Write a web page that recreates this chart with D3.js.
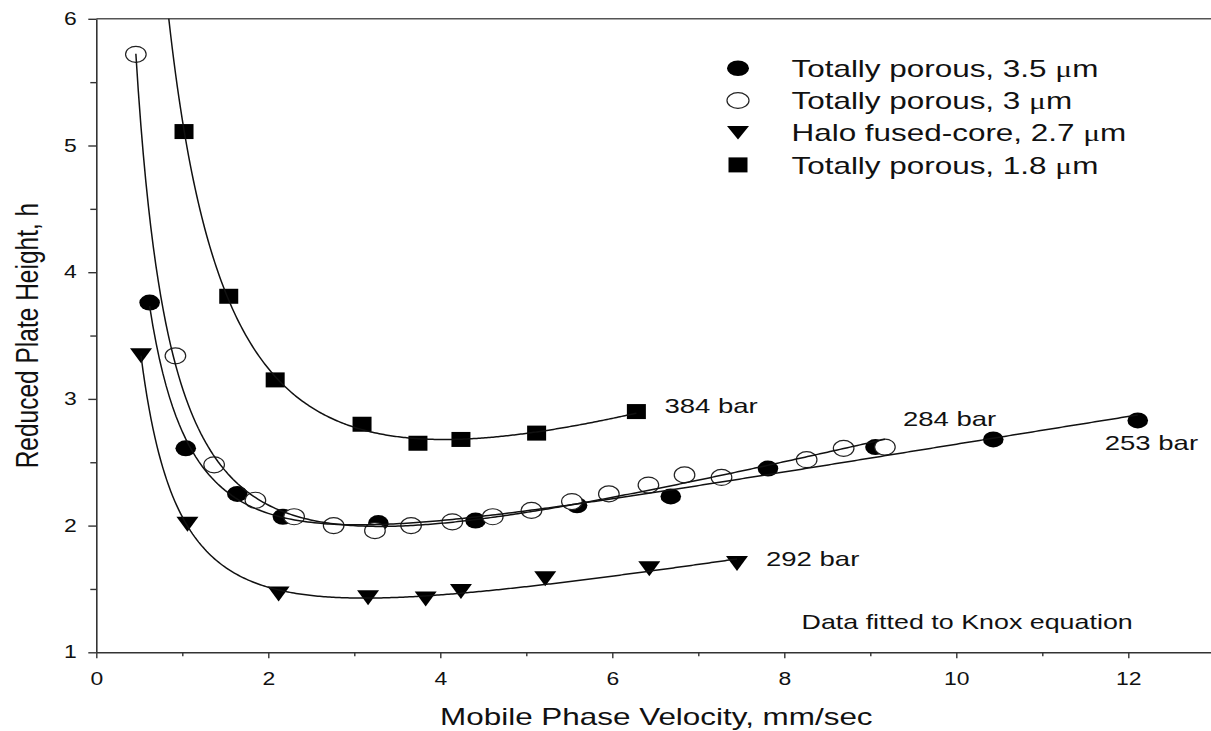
<!DOCTYPE html>
<html>
<head>
<meta charset="utf-8">
<script src="https://cdn.jsdelivr.net/npm/d3@7/dist/d3.min.js"></script>
<style>
  html, body { margin: 0; padding: 0; background: #fff; }
  svg { display: block; }
  text { font-family: "Liberation Sans", Arial, sans-serif; fill: #111; }
</style>
</head>
<body>
<svg id="chart" width="1211" height="731"></svg>
<script>
// Van Deemter-style plate height data, reduced plate height h vs. linear velocity (mm/s)
const vel35 = [0.62, 1.04, 1.64, 2.17, 3.28, 4.41, 5.59, 6.68, 7.81, 9.06, 10.43, 12.11];
const h35   = [3.76, 2.61, 2.25, 2.07, 2.02, 2.04, 2.16, 2.23, 2.45, 2.62, 2.68, 2.83];

const vel30 = [0.46, 0.92, 1.37, 1.85, 2.30, 2.76, 3.24, 3.66, 4.14, 4.61, 5.06, 5.53, 5.96, 6.42, 6.84, 7.27, 8.26, 8.69, 9.17];
const h30   = [5.72, 3.34, 2.48, 2.20, 2.07, 2.00, 1.96, 2.00, 2.03, 2.07, 2.12, 2.19, 2.25, 2.32, 2.40, 2.38, 2.52, 2.61, 2.62];

const vel27 = [0.52, 1.06, 2.12, 3.16, 3.83, 4.24, 5.22, 6.43, 7.45];
const h27   = [3.34, 2.01, 1.46, 1.43, 1.42, 1.48, 1.58, 1.66, 1.70];

const vel18 = [1.02, 1.54, 2.08, 3.09, 3.74, 4.24, 5.12, 6.28];
const h18   = [5.11, 3.81, 3.15, 2.80, 2.65, 2.68, 2.73, 2.90];

const seriesNames = [
  "Totally porous, 3.5 ",
  "Totally porous, 3 ",
  "Halo fused-core, 2.7 ",
  "Totally porous, 1.8 "
];
const pressureLabels = ["253 bar", "284 bar", "292 bar", "384 bar"];
const noteText = "Data fitted to Knox equation";

const xMajor = [0, 2, 4, 6, 8, 10, 12];
const xMinor = [1, 3, 5, 7, 9, 11];
const yMajor = [1, 2, 3, 4, 5, 6];
const yMinor = [1.5, 2.5, 3.5, 4.5, 5.5];

// ---- layout ----
const SX = 1.31;              // horizontal glyph stretch used throughout the figure
const plotL = 96.3, plotR = 1214.3, plotT = 18.8, plotB = 652.3;

const svg = d3.select("#chart");
const x = d3.scaleLinear().domain([0, 13]).range([plotL, plotR]);
const y = d3.scaleLinear().domain([1, 6]).range([plotB, plotT]);

const axisColor = "#333";

// clip region for the fitted curves
svg.append("defs").append("clipPath").attr("id", "plotClip")
  .append("rect").attr("x", plotL).attr("y", plotT).attr("width", plotR - plotL).attr("height", plotB - plotT);

// top frame line
svg.append("line").attr("x1", plotL).attr("x2", plotR).attr("y1", plotT).attr("y2", plotT)
  .attr("stroke", "#555").attr("stroke-width", 1.6);

// ---- axes ----
function styleAxis(g) {
  g.selectAll("path.domain").attr("stroke", axisColor).attr("stroke-width", 1.6);
  g.selectAll(".tick line").attr("stroke", axisColor).attr("stroke-width", 1.4);
}

const gx = svg.append("g").attr("transform", `translate(0,${plotB})`)
  .call(d3.axisBottom(x).tickValues(xMajor).tickSize(6).tickSizeOuter(0).tickPadding(14).tickFormat(d3.format("d")));
styleAxis(gx);
gx.selectAll(".tick text").attr("font-size", 17.5).attr("fill", "#111")
  .attr("font-family", "Liberation Sans, Arial, sans-serif")
  .attr("transform", `scale(${SX},1)`);

const gxm = svg.append("g").attr("transform", `translate(0,${plotB})`)
  .call(d3.axisBottom(x).tickValues(xMinor).tickSize(4).tickFormat(""));
gxm.select("path.domain").remove();
styleAxis(gxm);

const gy = svg.append("g").attr("transform", `translate(${plotL},0)`)
  .call(d3.axisLeft(y).tickValues(yMajor).tickSize(8).tickSizeOuter(0).tickFormat(d3.format("d")));
styleAxis(gy);
gy.selectAll(".tick text").attr("font-size", 17.5).attr("fill", "#111")
  .attr("font-family", "Liberation Sans, Arial, sans-serif")
  .attr("x", null)
  .attr("transform", `translate(-19.5,0) scale(${SX},1)`);

const gym = svg.append("g").attr("transform", `translate(${plotL},0)`)
  .call(d3.axisLeft(y).tickValues(yMinor).tickSize(6).tickFormat(""));
gym.select("path.domain").remove();
styleAxis(gym);

// axis titles
svg.append("text")
  .attr("transform", `translate(${(plotL + plotR) / 2 + 1},725) scale(${SX},1)`)
  .attr("text-anchor", "middle").attr("font-size", 24)
  .text("Mobile Phase Velocity, mm/sec");

svg.append("text")
  .attr("transform", `translate(38,${(plotT + plotB) / 2}) rotate(-90) scale(1,${SX})`)
  .attr("text-anchor", "middle").attr("font-size", 24.5)
  .text("Reduced Plate Height, h");

// ---- Knox equation fit: h = A v^(1/3) + B / v + C v (linear least squares) ----
function knoxFit(vs, hs) {
  const M = [[0, 0, 0], [0, 0, 0], [0, 0, 0]], b = [0, 0, 0];
  vs.forEach((v, i) => {
    const r = [Math.cbrt(v), 1 / v, v];
    for (let j = 0; j < 3; j++) {
      b[j] += r[j] * hs[i];
      for (let k = 0; k < 3; k++) M[j][k] += r[j] * r[k];
    }
  });
  // Gaussian elimination with partial pivoting
  const A = M.map((row, i) => row.concat([b[i]]));
  for (let c = 0; c < 3; c++) {
    let p = c;
    for (let r = c + 1; r < 3; r++) if (Math.abs(A[r][c]) > Math.abs(A[p][c])) p = r;
    [A[c], A[p]] = [A[p], A[c]];
    for (let r = c + 1; r < 3; r++) {
      const f = A[r][c] / A[c][c];
      for (let k = c; k < 4; k++) A[r][k] -= f * A[c][k];
    }
  }
  const s = [0, 0, 0];
  for (let r = 2; r >= 0; r--) {
    let acc = A[r][3];
    for (let k = r + 1; k < 3; k++) acc -= A[r][k] * s[k];
    s[r] = acc / A[r][r];
  }
  return v => s[0] * Math.cbrt(v) + s[1] / v + s[2] * v;
}

const line = d3.line().x(d => x(d[0])).y(d => y(d[1]));
function fitPath(vs, hs, vStart) {
  const f = knoxFit(vs, hs);
  const v0 = vStart, v1 = d3.max(vs), n = 300;
  return d3.range(n + 1).map(i => { const v = v0 + (v1 - v0) * i / n; return [v, f(v)]; });
}

// ---- markers ----
const ELL = { rx: 10.3, ry: 8 };
const SQ = { w: 19, h: 15 };
const TRI = { w: 22, h: 15 };

function triPath(w, h) {
  return `M${-w / 2},${-h / 2}L${w / 2},${-h / 2}L0,${h / 2}Z`;
}

const zip = (a, b) => a.map((v, i) => [v, b[i]]);

const marks = svg.append("g");

// squares (1.8 um)
marks.selectAll("rect.s18").data(zip(vel18, h18)).join("rect")
  .attr("x", d => x(d[0]) - SQ.w / 2).attr("y", d => y(d[1]) - SQ.h / 2)
  .attr("width", SQ.w).attr("height", SQ.h).attr("fill", "#000");

// triangles (2.7 um)
marks.selectAll("path.s27").data(zip(vel27, h27)).join("path")
  .attr("transform", d => `translate(${x(d[0])},${y(d[1])})`)
  .attr("d", triPath(TRI.w, TRI.h)).attr("fill", "#000");

// filled circles (3.5 um)
marks.selectAll("ellipse.s35").data(zip(vel35, h35)).join("ellipse")
  .attr("class", "s35")
  .attr("cx", d => x(d[0])).attr("cy", d => y(d[1]))
  .attr("rx", ELL.rx).attr("ry", ELL.ry).attr("fill", "#000");

// open circles (3 um)
marks.selectAll("ellipse.s30").data(zip(vel30, h30)).join("ellipse")
  .attr("class", "s30")
  .attr("cx", d => x(d[0])).attr("cy", d => y(d[1]))
  .attr("rx", ELL.rx).attr("ry", ELL.ry)
  .attr("fill", "#fff").attr("stroke", "#222").attr("stroke-width", 1.2);

// ---- fitted curves ----
const curves = svg.append("g").attr("clip-path", "url(#plotClip)")
  .attr("fill", "none").attr("stroke", "#111").attr("stroke-width", 1.5);
curves.append("path").attr("d", line(fitPath(vel18, h18, 0.6)));
curves.append("path").attr("d", line(fitPath(vel27, h27, d3.min(vel27))));
curves.append("path").attr("d", line(fitPath(vel35, h35, d3.min(vel35))));
curves.append("path").attr("d", line(fitPath(vel30, h30, d3.min(vel30))));

// ---- pressure annotations at the last point of each series ----
function stretchedText(px, py, txt, size) {
  return svg.append("text")
    .attr("transform", `translate(${px},${py}) scale(${SX},1)`)
    .attr("font-size", size).text(txt);
}
const last = (vs, hs) => [vs[vs.length - 1], hs[hs.length - 1]];
{
  const [v, h] = last(vel35, h35);
  stretchedText(x(v) - 33, y(h) + 30, pressureLabels[0], 21);
}
{
  const [v, h] = last(vel30, h30);
  stretchedText(x(v) + 18, y(h) - 21, pressureLabels[1], 21);
}
{
  const [v, h] = last(vel27, h27);
  stretchedText(x(v) + 29, y(h) + 2, pressureLabels[2], 21);
}
{
  const [v, h] = last(vel18, h18);
  stretchedText(x(v) + 28, y(h) + 1, pressureLabels[3], 21);
}

stretchedText(801.5, 628.5, noteText, 20.5);

// ---- legend ----
const legend = svg.append("g");
const legX = 738, legY0 = 68.3, legDy = 32.2, legTextX = 791.5;
seriesNames.forEach((name, i) => {
  const cy = legY0 + i * legDy;
  if (i === 0) {
    legend.append("ellipse").attr("cx", legX).attr("cy", cy).attr("rx", 11).attr("ry", 7.8).attr("fill", "#000");
  } else if (i === 1) {
    legend.append("ellipse").attr("cx", legX).attr("cy", cy).attr("rx", 11).attr("ry", 7.8)
      .attr("fill", "#fff").attr("stroke", "#222").attr("stroke-width", 1.2);
  } else if (i === 2) {
    legend.append("path").attr("transform", `translate(${legX},${cy})`).attr("d", triPath(22, 13.5)).attr("fill", "#000");
  } else {
    legend.append("rect").attr("x", legX - 9.5).attr("y", cy - 7.5).attr("width", 19).attr("height", 15).attr("fill", "#000");
  }
  const t = legend.append("text")
    .attr("transform", `translate(${legTextX},${cy + 8.6}) scale(${SX},1)`)
    .attr("font-size", 24);
  t.append("tspan").text(name);
  t.append("tspan").attr("font-family", "Liberation Serif, Times New Roman, serif").text("\u03bc");
  t.append("tspan").text("m");
});
</script>
</body>
</html>
